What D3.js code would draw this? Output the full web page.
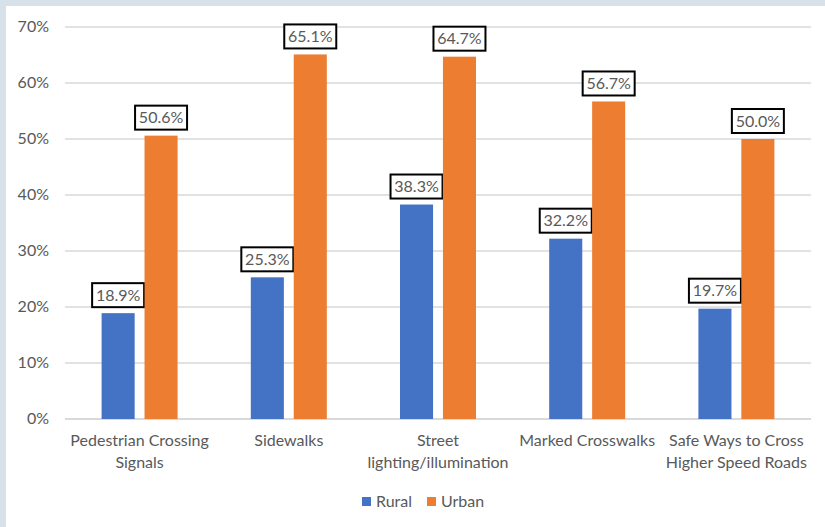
<!DOCTYPE html>
<html>
<head>
<meta charset="utf-8">
<script src="https://cdn.jsdelivr.net/npm/d3@7"></script>
<style>
  body { margin: 0; background: #d7e1e9; }
  svg { display: block; }
</style>
</head>
<body>
<script>
var categories = [["Pedestrian Crossing", "Signals"], ["Sidewalks"], ["Street", "lighting/illumination"], ["Marked Crosswalks"], ["Safe Ways to Cross", "Higher Speed Roads"]];
var rural = [18.9, 25.3, 38.3, 32.2, 19.7];
var urban = [50.6, 65.1, 64.7, 56.7, 50.0];
var seriesNames = ["Rural", "Urban"];
var seriesColors = ["#4472c4", "#ed7d31"];
var yTicks = [0, 10, 20, 30, 40, 50, 60, 70];

var W = 825, H = 527;
var font = "Lato, 'Noto Sans', sans-serif";
var textColor = "#595959";

var svg = d3.select("body").append("svg")
  .attr("width", W).attr("height", H);

// chart panel
svg.append("rect").attr("x", 6).attr("y", 6).attr("width", W - 6).attr("height", H - 6).attr("fill", "#fff");

var plotLeft = 65, plotRight = 811, plotTop = 27, plotBottom = 419;

var y = d3.scaleLinear().domain([0, 70]).range([plotBottom, plotTop]);
var x0 = d3.scaleBand().domain(d3.range(categories.length)).range([plotLeft, plotRight]);
var x1 = d3.scaleBand().domain([0, 1]).range([x0.bandwidth() / 2 - 38, x0.bandwidth() / 2 + 38]).paddingInner(0.23);

// gridlines
svg.append("g").selectAll("line").data(yTicks).join("line")
  .attr("x1", plotLeft).attr("x2", plotRight)
  .attr("y1", function (d) { return y(d); }).attr("y2", function (d) { return y(d); })
  .attr("stroke", "#d9d9d9").attr("stroke-width", function (d) { return d == 0 ? 2 : 1.3; });

// y tick labels
svg.append("g").selectAll("text").data(yTicks).join("text")
  .attr("x", 49).attr("y", function (d) { return y(d) + 5; })
  .attr("text-anchor", "end")
  .attr("font-family", font).attr("font-size", 16).attr("fill", textColor)
  .text(function (d) { return d + "%"; });

var series = [rural, urban];
for (var s = 0; s < 2; s++) {
  var g = svg.append("g");
  g.selectAll("rect").data(series[s]).join("rect")
    .attr("x", function (d, i) { return x0(i) + x1(s); })
    .attr("y", function (d) { return y(d); })
    .attr("width", x1.bandwidth())
    .attr("height", function (d) { return plotBottom - y(d); })
    .attr("fill", seriesColors[s]);

  // value labels with boxes
  var lab = g.selectAll("g.lab").data(series[s]).join("g").attr("class", "lab")
    .attr("transform", function (d, i) {
      return "translate(" + (x0(i) + x1(s) + x1.bandwidth() / 2) + "," + (y(d) - 18) + ")";
    });
  lab.append("rect")
    .attr("x", -26).attr("y", -12).attr("width", 52).attr("height", 24)
    .attr("fill", "#fff").attr("stroke", "#000").attr("stroke-width", 2);
  lab.append("text")
    .attr("text-anchor", "middle").attr("y", 5.5)
    .attr("font-family", font).attr("font-size", 16).attr("fill", textColor)
    .text(function (d) { return d.toFixed(1) + "%"; });
}

// category labels
var cat = svg.append("g").selectAll("text").data(categories).join("text")
  .attr("x", function (d, i) { return x0(i) + x0.bandwidth() / 2; })
  .attr("y", 446)
  .attr("text-anchor", "middle")
  .attr("font-family", font).attr("font-size", 16).attr("fill", textColor);
cat.selectAll("tspan").data(function (d) { return d; }).join("tspan")
  .attr("x", function () { return d3.select(this.parentNode).attr("x"); })
  .attr("dy", function (d, i) { return i == 0 ? 0 : 22; })
  .text(function (d) { return d; });

// legend
var legX = [362, 427];
var leg = svg.append("g").selectAll("g").data(seriesNames).join("g")
  .attr("transform", function (d, i) { return "translate(" + legX[i] + ",497)"; });
leg.append("rect").attr("width", 9).attr("height", 9)
  .attr("fill", function (d, i) { return seriesColors[i]; });
leg.append("text").attr("x", 14).attr("y", 9.5)
  .attr("font-family", font).attr("font-size", 16).attr("fill", textColor)
  .text(function (d) { return d; });
</script>
</body>
</html>
